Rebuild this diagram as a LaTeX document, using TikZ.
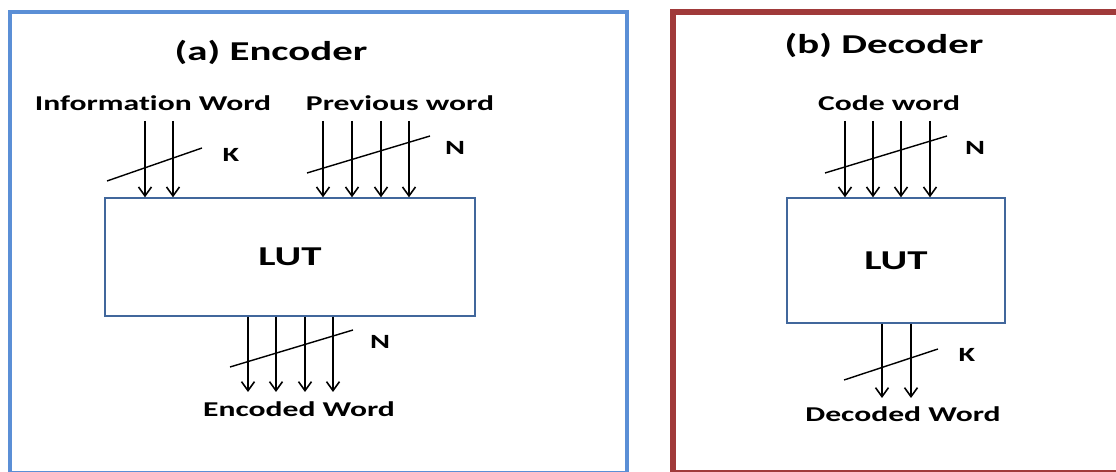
\documentclass[tikz,border=0pt]{standalone}
\usepackage{fontspec}
\newfontfamily\figfont{Carlito}[FakeStretch=1.5, Ligatures=NoCommon]
\usetikzlibrary{arrows.meta}
\definecolor{enc-blue}{HTML}{5B8FD6}
\definecolor{dec-red}{HTML}{A03A3A}
\definecolor{box-blue}{HTML}{41679C}

\begin{document}
\begin{tikzpicture}[x=0.02cm, y=-0.02cm,
      every node/.style={font=\figfont\bfseries\fontsize{12}{14}\selectfont, inner sep=0pt},
      title/.style={font=\figfont\bfseries\fontsize{15.5}{18}\selectfont},
      width/.style={font=\figfont\bfseries\fontsize{11.5}{13}\selectfont},
      lutbox/.style={draw=box-blue, line width=0.8pt, fill=white,
          font=\figfont\bfseries\fontsize{15.5}{18}\selectfont},
      bus/.style={-{Straight Barb[length=1.8mm, width=2.6mm]}, line width=0.9pt,
          shorten <=0.2cm},
      slash/.style={line width=0.8pt}]
    \useasboundingbox (0,0) rectangle (1116,472);
    \clip (0,0) rectangle (1116,472);
    % frames
    \draw[enc-blue, line width=2.8pt] (10,12) rectangle (627,473);
    \draw[dec-red, line width=3.2pt] (673,12) rectangle (1125,473);

    % (a) encoder
    \node[title] (encTitle) at (271,52) {(a) Encoder};
    \node (info) at (153,103) {Information Word};
    \node (prev) at (400,103) {Previous word};
    \node[lutbox, minimum width=7.4cm, minimum height=2.36cm] (encLUT) at (290,257) {LUT};
    \node (encOut) at (299,409) {Encoded Word};
    \foreach \x in {145,173}
      \draw[bus] (\x,0 |- info.south) -- (\x,0 |- encLUT.north);
    \foreach \x in {323,352,381,409}
      \draw[bus] (\x,0 |- prev.south) -- (\x,0 |- encLUT.north);
    \foreach \x in {248,276,305,333}
      \draw[bus, shorten <=0pt] (\x,0 |- encLUT.south) -- (\x,392);
    \draw[slash] (107,181) -- (202,148);
    \node[width] (kIn) at (231,155) {K};
    \draw[slash] (307,173) -- (430,136);
    \node[width] (nIn) at (455,148) {N};
    \draw[slash] (230,367) -- (353,330);
    \node[width] (nOut) at (380,342) {N};

    % (b) decoder
    \node[title] (decTitle) at (884,45) {(b) Decoder};
    \node (code) at (889,103) {Code word};
    \node[lutbox, minimum width=4.36cm, minimum height=2.5cm] (decLUT) at (896,260.5) {LUT};
    \node (decOut) at (903,414) {Decoded Word};
    \foreach \x in {845,873,901,930}
      \draw[bus] (\x,0 |- code.south) -- (\x,0 |- decLUT.north);
    \foreach \x in {882,911}
      \draw[bus, shorten <=0pt] (\x,0 |- decLUT.south) -- (\x,398);
    \draw[slash] (825,173) -- (947,136);
    \node[width] (nDec) at (975,148) {N};
    \draw[slash] (844,380) -- (938,349);
    \node[width] (kDec) at (967,355) {K};
\end{tikzpicture}
\end{document}
